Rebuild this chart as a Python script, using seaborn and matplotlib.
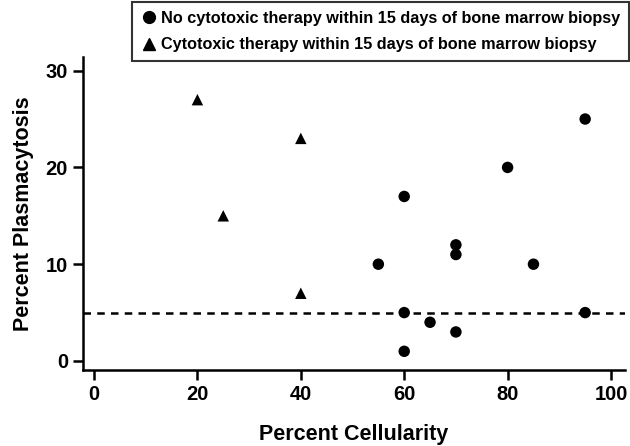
import matplotlib
matplotlib.use("Agg")
import matplotlib.pyplot as plt
import seaborn as sns
import pandas as pd
from matplotlib.lines import Line2D

sns.set_theme(style="ticks")
plt.rcParams['font.family'] = ['Liberation Sans', 'DejaVu Sans']
plt.rcParams['font.weight'] = 'bold'
plt.rcParams['text.color'] = 'black'
plt.rcParams['axes.labelcolor'] = 'black'
plt.rcParams['xtick.color'] = 'black'
plt.rcParams['ytick.color'] = 'black'

no_cyto_x = [55, 60, 60, 60, 65, 70, 70, 70, 80, 85, 95, 95]
no_cyto_y = [10, 17, 5, 1, 4, 12, 11, 3, 20, 10, 25, 5]
cyto_x = [20, 25, 40, 40]
cyto_y = [27, 15, 23, 7]
label_no = "No cytotoxic therapy within 15 days of bone marrow biopsy"
label_cy = "Cytotoxic therapy within 15 days of bone marrow biopsy"
threshold = 5
x_ticks = [0, 20, 40, 60, 80, 100]
y_ticks = [0, 10, 20, 30]

df = pd.DataFrame({
    "x": no_cyto_x + cyto_x,
    "y": no_cyto_y + cyto_y,
    "group": [label_no] * len(no_cyto_x) + [label_cy] * len(cyto_x),
})

fig = plt.figure(figsize=(6.3, 4.46), dpi=100)
ax = fig.add_axes([0.132, 0.170, 0.860, 0.702])

sns.scatterplot(data=df, x="x", y="y", style="group",
                markers={label_no: "o", label_cy: "^"},
                color="black", s=68, edgecolor="none", ax=ax, legend=False)

ax.axhline(threshold, color="black", linestyle=(0, (3, 2.5)), linewidth=1.8, zorder=0)

ax.set_xlim(-2.1, 102.7)
ax.set_ylim(-0.95, 31.4)
ax.set_xticks(x_ticks)
ax.set_yticks(y_ticks)
ax.tick_params(axis="both", labelsize=14.5, width=1.8, length=7, color="black",
               labelcolor="black", pad=4)
for lab in ax.get_xticklabels() + ax.get_yticklabels():
    lab.set_fontweight("bold")
for side in ["left", "bottom"]:
    ax.spines[side].set_linewidth(1.8)
    ax.spines[side].set_color("black")
sns.despine(ax=ax)

ax.set_xlabel("Percent Cellularity", fontsize=15.5, fontweight="bold", labelpad=14, color="black")
ax.set_ylabel("Percent Plasmacytosis", fontsize=15.5, fontweight="bold", labelpad=8, color="black")

handles = [Line2D([], [], marker="o", color="black", linestyle="none", markersize=8.5),
           Line2D([], [], marker="^", color="black", linestyle="none", markersize=8.5)]
leg = fig.legend(handles, [label_no, label_cy], loc="upper right",
                 bbox_to_anchor=(629 / 630, 1 - 2 / 446), frameon=True,
                 fancybox=False, prop={"weight": "bold", "size": 11.7},
                 handletextpad=0.25, handlelength=1.0, borderpad=0.55,
                 labelspacing=0.7, borderaxespad=0)
leg.get_frame().set_edgecolor("black")
leg.get_frame().set_linewidth(1.5)
for t in leg.get_texts():
    t.set_color("black")

fig.savefig("out.png", dpi=100)
